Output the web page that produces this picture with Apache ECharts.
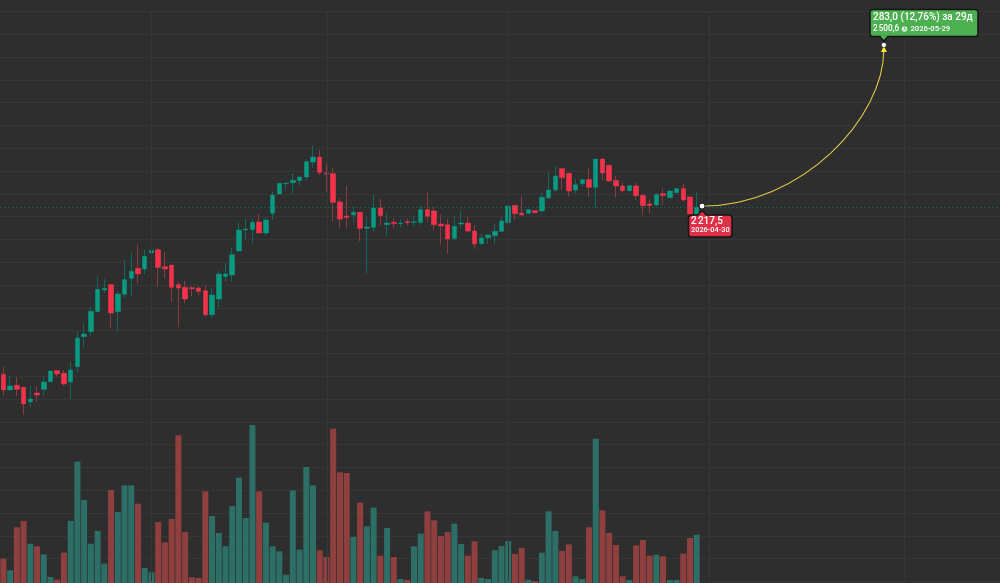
<!DOCTYPE html>
<html><head><meta charset="utf-8">
<style>html,body{margin:0;padding:0;background:#2e2e2e;overflow:hidden;width:1000px;height:583px}#c{width:1003px;height:583px}</style>
<script src="https://cdn.jsdelivr.net/npm/echarts@6/dist/echarts.min.js"></script>
</head><body><div id="c"></div>
<script>
const opens = [
1921,1893.4,1901.6,1898.1,1872.3,1888.1,1894.6,1908.1,1927.5,1922.8,
1907.5,1934.5,1987.4,1996.2,2031.4,2069.6,2079,2031.4,2062,2090.1,
2107.8,2106.6,2134.8,2140.6,2110.7,2113.6,2079,2074.3,2073.7,2073.1,
2068.4,2026.1,2053.7,2093.1,2096,2138.3,2175.3,2175.9,2189.4,2170,
2204.7,2238.8,2257,2258.7,2262.2,2268.7,2295.1,2303.9,2275.8,2274.6,
2224.7,2200,2201.8,2206.5,2178.3,2180,2214.1,2184.7,2188.8,2186.5,
2190,2188.8,2188.8,2211.2,2208.8,2185.9,2184.7,2160.6,2185.9,2187.7,
2173.6,2151.3,2161.8,2165.4,2173,2188.3,2218.8,2205.3,2204.7,2209.4,
2208.8,2231.7,2245.8,2283.4,2275.2,2245.8,2257,2264,2250.5,2300.4,
2289.3,2262.9,2252.9,2244.6,2252.9,2236.4,2221.2,2219.4,2239.4,2232.3,
2241.1,2248.2,2233.5,2198.3];
const closes = [
1893.4,1900.4,1894.6,1868.7,1877.5,1884.6,1907.5,1926.9,1921.6,1904,
1928.6,1985,1992.1,2032,2070.8,2072.5,2029.1,2062.5,2087.8,2102.5,
2097.8,2128.9,2139.5,2109.5,2106.6,2074.3,2073.1,2053.7,2071.9,2067.2,
2026.1,2060.8,2097.8,2097.8,2131.8,2175.3,2177.1,2188.8,2170,2192.9,
2237,2257.6,2258.1,2262.8,2268.7,2295.7,2303.9,2276.9,2274,2224.1,
2194.7,2197.1,2206.5,2178.3,2180.6,2214.1,2200.6,2187.7,2186.5,2187.7,
2188.2,2190,2211.2,2199.4,2184.7,2182.4,2159.5,2181.8,2187.7,2173.6,
2150.7,2161.3,2166.5,2173,2191.2,2217.6,2204.1,2201.8,2211.2,2205.9,
2232.9,2245.8,2270.5,2267.6,2244.1,2255.2,2264,2250.5,2300.4,2275.8,
2261.7,2252.9,2244.6,2253.5,2235.8,2218.2,2218.2,2237.6,2236.4,2244.1,
2248.2,2228.2,2203.5,2215.3];
const lows = [
1883.4,1893.4,1882.8,1849.3,1863.4,1872.3,1883.4,1908.1,1917.5,1900.4,
1877.5,1924.5,1968,1988.5,2031.4,2064.3,2002.6,1997.9,2055.5,2059,
2081.3,2098.4,2129.5,2076,2090.1,2048.4,2004.4,2046.1,2059,2061.4,
2023.8,2020.3,2039.6,2083.7,2084.3,2137.2,2158.9,2150.7,2170,2165.3,
2192.9,2238.8,2245.8,2238.8,2254,2261.7,2285.2,2272.2,2241.1,2191.2,
2178.9,2178.9,2189.4,2155.9,2099,2171.8,2183,2164.8,2178.9,2180,
2183,2182.4,2184.1,2190.6,2175.3,2149.5,2134.2,2157.7,2178.3,2171.8,
2141.9,2150.1,2150.7,2150.7,2173,2188.3,2193,2200.6,2203.5,2204.7,
2207.1,2229.4,2242.9,2245.8,2234.1,2240,2251.7,2234.1,2213.5,2263.4,
2259.9,2232.3,2241.7,2244.6,2228.2,2201.8,2204.7,2217.6,2219.4,2231.7,
2241.1,2224.7,2203.5,2198.3];
const highs = [
1934.5,1918.1,1916.3,1898.1,1899.9,1899.9,1916.9,1926.9,1927.5,1928.6,
1942.7,1996.2,2010.9,2039,2093.1,2089,2079,2067.2,2122.4,2134.8,
2150,2141.2,2148.9,2144.8,2137.1,2113.6,2083.7,2086,2076.6,2076.6,
2078.4,2072.5,2103.6,2116.6,2144.8,2189.4,2195.3,2195.9,2203.5,2198.8,
2242.9,2257.6,2258.1,2275.2,2268.7,2299.8,2325.1,2316.3,2292.8,2285.7,
2231.7,2252.9,2217.6,2206.5,2197.6,2237,2229.9,2204.7,2196.5,2194.1,
2195.3,2201.8,2218.2,2241.7,2216.4,2202.3,2194.7,2198.8,2208.8,2198.8,
2184.2,2168.3,2168.3,2185.9,2197.7,2217.6,2218.8,2235.3,2211.2,2209.4,
2241.1,2276.4,2288.1,2283.4,2275.2,2265.8,2266.4,2285.8,2300.4,2300.4,
2289.3,2270.5,2258.7,2253.5,2258.7,2240,2229.4,2240,2248.8,2244.6,
2248.2,2257.6,2233.5,2241.7];
const volumes = [
73,38,167,186,118,110,86,18,10,91,186,364,249,118,156,58,279,213,293,293,
238,45,32,183,122,192,443,153,17,15,275,201,150,110,231,316,195,474,275,181,
110,95,25,278,100,348,293,98,78,463,332,330,138,241,170,226,82,165,78,12,
9,110,148,215,188,141,153,178,117,82,125,15,12,98,111,126,87,105,10,5,
91,215,156,96,116,20,12,167,433,218,150,114,20,9,113,129,82,85,80,9,
9,88,135,145];
const slotCount = 149;
const lastBarDate = '2026-04-30';
const monthLineSlots = [21.9, 48.05, 74.97, 104.87, 133.85];
const lastPrice = 2215.3;
const startPoint = { slot: 103.8, price: 2217.5 };
const targetPoint = { slot: 130.8, price: 2500.6 };
const startLabels = ['2\u202f217,5', '2026-04-30'];
const targetLabels = ['283,0 (12,76%) за 29д', '2\u202f500,6', '2026-05-29'];

const UP = '#0a9a82', DOWN = '#f9304a', UP_WICK = '#10695b', DOWN_WICK = '#8c3a42';
const VOL_UP = '#2d6e67', VOL_DOWN = '#8f403e';
const FONT = 'Roboto';

const categories = [];
{
  const base = new Date(lastBarDate + 'T00:00:00Z').getTime();
  for (let i = 0; i < slotCount; i++) {
    categories.push(new Date(base + (i - 103) * 864e5).toISOString().slice(0, 10));
  }
}
const wickData = opens.map((o, i) => [o, closes[i], lows[i], highs[i]]);
const bodyData = opens.map((o, i) => [o, closes[i], Math.min(o, closes[i]), Math.max(o, closes[i])]);
const volData = volumes.map((v, i) => ({
  value: v,
  itemStyle: { color: closes[i] >= opens[i] ? VOL_UP : VOL_DOWN }
}));

const option = {
  backgroundColor: '#2e2e2e',
  animation: false,
  grid: [
    { left: 0, right: 0, top: 0, bottom: 0 },
    { left: 0, right: 0, top: 420, bottom: 0 },
    { left: 0, right: 0, top: 11.5, bottom: 1.5 },
    { left: 0, right: 0, top: 0, bottom: 0 }
  ],
  xAxis: [
    { type: 'category', gridIndex: 0, data: categories, show: false },
    { type: 'category', gridIndex: 1, data: categories, show: false },
    { type: 'value', gridIndex: 2, min: -0.5, max: 148.5, show: false, splitLine: { show: false } },
    { type: 'value', gridIndex: 3, min: -0.5, max: 148.5, show: false, splitLine: { show: false } }
  ],
  yAxis: [
    { type: 'value', gridIndex: 0, min: 1553.3, max: 2580.6, show: false, splitLine: { show: false }, scale: true },
    { type: 'value', gridIndex: 1, min: 0, max: 489, show: false, splitLine: { show: false } },
    { type: 'value', gridIndex: 2, min: 0, max: 25, interval: 1,
      axisLine: { show: false }, axisTick: { show: false }, axisLabel: { show: false },
      splitLine: { show: true, lineStyle: { color: '#373737', width: 1 } } },
    { type: 'value', gridIndex: 3, min: 1553.3, max: 2580.6, show: false, splitLine: { show: false }, scale: true }
  ],
  series: [
    { type: 'line', xAxisIndex: 2, yAxisIndex: 2, data: [], silent: true, z: 0,
      markLine: { silent: true, symbol: 'none', label: { show: false },
        lineStyle: { color: '#373737', width: 1, type: 'solid' },
        data: monthLineSlots.map(s => ({ xAxis: s })) } },
    { type: 'bar', xAxisIndex: 1, yAxisIndex: 1, data: volData, barWidth: 6, z: 1, silent: true },
    { type: 'candlestick', xAxisIndex: 0, yAxisIndex: 0, data: wickData, barWidth: 5, z: 2, silent: true,
      itemStyle: { color: UP_WICK, color0: DOWN_WICK, borderColor: UP_WICK, borderColor0: DOWN_WICK, borderWidth: 1 },
      markLine: { silent: true, symbol: 'none', label: { show: false }, animation: false,
        lineStyle: { color: 'rgba(10,154,130,0.38)', width: 1, type: [2, 2] },
        data: [{ yAxis: lastPrice }] } },
    { type: 'candlestick', xAxisIndex: 0, yAxisIndex: 0, data: bodyData, barWidth: 5, z: 3, silent: true,
      itemStyle: { color: UP, color0: DOWN, borderColor: UP, borderColor0: DOWN, borderWidth: 0 } },
    { type: 'custom', xAxisIndex: 3, yAxisIndex: 3, z: 5, clip: false, silent: true,
      coordinateSystem: 'cartesian2d',
      data: [[startPoint.slot, startPoint.price, targetPoint.slot, targetPoint.price]],
      encode: { x: [0, 2], y: [1, 3] },
      renderItem(params, api) {
        const s = api.coord([api.value(0), api.value(1)]);
        const t = api.coord([api.value(2), api.value(3)]);
        const k = 0.55;
        const ink = '#141414';
        const box = (x, y, w, h, fill) => ({ type: 'rect',
          shape: { x, y, width: w, height: h, r: 3 },
          style: { fill, stroke: ink, lineWidth: 1.5 } });
        const tip = (pts, fill) => ({ type: 'polygon', shape: { points: pts }, style: { fill, stroke: null } });
        const txt = (x, y, text, size, weight) => ({ type: 'text',
          style: { x, y, text, fill: '#fff', font: `${weight} ${size}px ${FONT}`, align: 'left', verticalAlign: 'middle' } });
        const gx = t[0], gy = t[1];
        return { type: 'group', children: [
          { type: 'bezierCurve',
            shape: { x1: s[0], y1: s[1], x2: gx, y2: gy + 4,
              cpx1: s[0] + (gx - s[0]) * k, cpy1: s[1],
              cpx2: gx, cpy2: gy + (s[1] - gy) * (1 - k) },
            style: { stroke: '#dcc84c', lineWidth: 1.1, fill: null } },
          { type: 'circle', shape: { cx: s[0], cy: s[1], r: 3 }, style: { fill: '#fff', stroke: ink, lineWidth: 1 } },
          // start label
          { type: 'polygon', shape: { points: [[s[0] - 5.5, s[1] + 9.5], [s[0], s[1] + 4], [s[0] + 5.5, s[1] + 9.5]] }, style: { fill: ink } },
          box(688.5, s[1] + 9, 43.5, 22, '#e03048'),
          tip([[s[0] - 4, s[1] + 10], [s[0], s[1] + 5.5], [s[0] + 4, s[1] + 10]], '#e03048'),
          txt(691, s[1] + 15, startLabels[0], 10, 500),
          txt(691, s[1] + 24.5, startLabels[1], 7.4, 500),
          // target label
          { type: 'polygon', shape: { points: [[gx - 5.5, 36], [gx, 42], [gx + 5.5, 36]] }, style: { fill: ink } },
          box(870, 9.5, 108, 27, '#4caf50'),
          tip([[gx - 4, 35.5], [gx, 40], [gx + 4, 35.5]], '#4caf50'),
          txt(873, 17.5, targetLabels[0], 10, 500),
          txt(873, 29, targetLabels[1], 8.2, 500),
          { type: 'circle', shape: { cx: 904.5, cy: 29, r: 2.8 }, style: { fill: '#d9efd9' } },
          { type: 'polyline', shape: { points: [[904.5, 27.3], [904.5, 29], [906, 29.7]] }, style: { stroke: '#4caf50', lineWidth: 0.7, fill: null } },
          txt(910.5, 29, targetLabels[2], 7.6, 500),
          // pin
          { type: 'polygon', shape: { points: [[gx - 3, gy + 6.5], [gx, gy + 0.5], [gx + 3, gy + 6.5]] }, style: { fill: '#ffeb3b' } },
          { type: 'circle', shape: { cx: gx, cy: gy - 0.5, r: 2.5 }, style: { fill: '#fff', stroke: ink, lineWidth: 0.6 } }
        ] };
      } }
  ]
};
const chart = echarts.init(document.getElementById('c'), null, { renderer: 'canvas' });
chart.setOption(option);
</script>
</body></html>
